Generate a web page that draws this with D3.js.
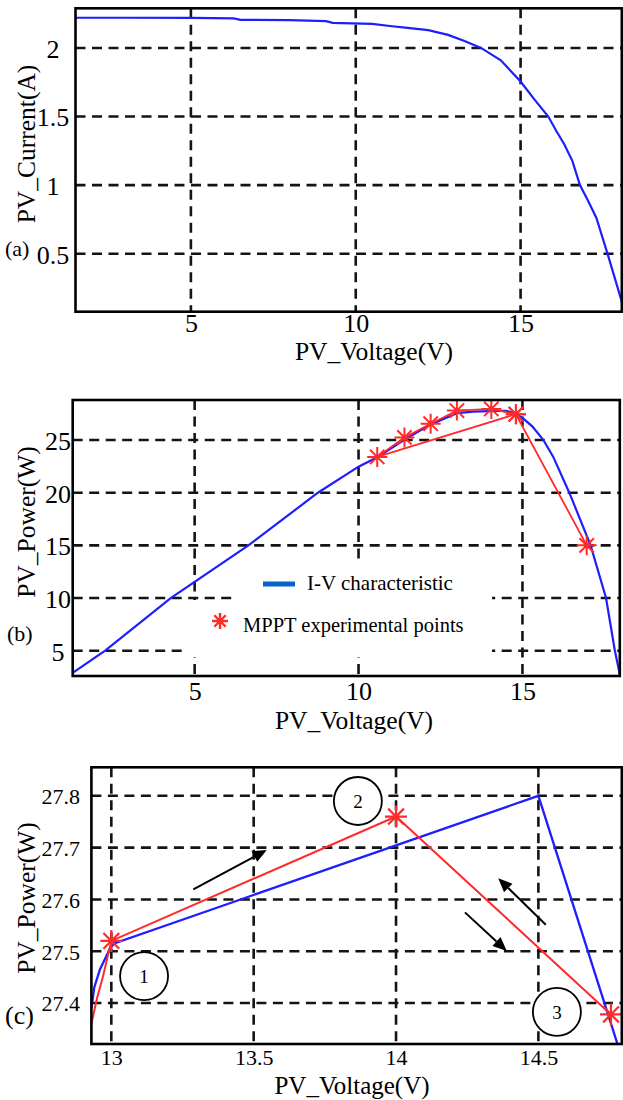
<!DOCTYPE html>
<html><head><meta charset="utf-8">
<script src="https://cdn.jsdelivr.net/npm/d3@7"></script>
<style>
body{margin:0;background:#fff}
svg{display:block}
text{font-family:"Liberation Serif","Times New Roman",serif;fill:#000}
</style>
</head><body>
<svg id="chart" width="623" height="1100"></svg>
<script>
// ---------- DATA ----------
// (a) I-V characteristic
const ivVoltage = [1.5, 3, 5, 6.3, 6.5, 8, 9.1, 9.3, 10.5, 11.1, 11.5, 12.2, 12.8, 13.3, 13.8, 14.4, 15.0, 15.4, 15.84, 16.08, 16.32, 16.57, 16.8, 17.05, 17.3, 17.65, 18.07];
const ivCurrent = [2.22, 2.22, 2.219, 2.215, 2.205, 2.203, 2.195, 2.183, 2.175, 2.158, 2.148, 2.13, 2.095, 2.05, 2.0, 1.91, 1.755, 1.63, 1.5, 1.396, 1.3, 1.177, 1.0, 0.884, 0.76, 0.49, 0.15];
// (b) P-V characteristic
const pvVoltage = [1.28, 2.27, 4.27, 6.64, 8.76, 10.0, 10.57, 11.42, 12.15, 13.0, 13.5, 14.0, 14.5, 14.8, 15.02, 15.3, 15.64, 15.94, 16.43, 17.08, 17.55, 17.82, 17.98];
const pvPower   = [2.9, 5.0, 10.0, 15.0, 20.0, 22.47, 23.36, 25.07, 26.4, 27.55, 27.7, 27.75, 27.78, 27.5, 27.06, 26.3, 25.0, 23.4, 20.0, 15.0, 10.0, 5.0, 2.6];
// (b) MPPT experimental points (in tracking order)
const mpptVoltage = [14.8, 10.57, 11.4, 12.2, 13.0, 14.05, 14.8, 16.96];
const mpptPower   = [27.45, 23.4, 25.25, 26.55, 27.8, 27.95, 27.45, 15.0];
// (c) zoom: characteristic and MPPT path
const zoomCurveVoltage = [12.93, 12.94, 12.96, 12.995, 13.01, 14.5, 14.79];
const zoomCurvePower   = [27.39, 27.43, 27.465, 27.505, 27.515, 27.8, 27.3];
const zoomMpptVoltage  = [12.93, 12.95, 12.97, 13.0, 14.0, 14.755];
const zoomMpptPower    = [27.36, 27.41, 27.45, 27.52, 27.76, 27.378];
const zoomStarVoltage  = [13.0, 14.0, 14.755];
const zoomStarPower    = [27.52, 27.76, 27.378];
const stepLabels = ["1", "2", "3"];
// ticks
const ticksAx = [5, 10, 15];
const ticksAy = [0.5, 1, 1.5, 2];
const ticksBx = [5, 10, 15];
const ticksBy = [5, 10, 15, 20, 25];
const ticksCx = [13, 13.5, 14, 14.5];
const ticksCy = [27.4, 27.5, 27.6, 27.7, 27.8];
const tickLabelsAy = ["0.5", "1", "1.5", "2"];
const tickLabelsCx = ["13", "13.5", "14", "14.5"];
const tickLabelsCy = ["27.4", "27.5", "27.6", "27.7", "27.8"];
const legendLabels = ["I-V characteristic", "MPPT experimental points"];

// ---------- LAYOUT ----------
const FONT = '"Liberation Serif","Times New Roman",serif';
const svg = d3.select("#chart");
svg.append("rect").attr("width",623).attr("height",1100).attr("fill","#fff");

const BLUE = "#1e1eff", RED = "#ff2b2b";

function txt(sel, size){ return sel.style("font-family", FONT).style("font-size", size + "px").attr("fill", "#000"); }

function makePanel(o){
  const x = d3.scaleLinear().domain(o.xDomain).range([o.left, o.right]);
  const y = d3.scaleLinear().domain(o.yDomain).range([o.bottom, o.top]);
  const g = svg.append("g");
  const clipId = "clip-" + o.id;
  svg.append("clipPath").attr("id", clipId).append("rect")
    .attr("x", o.left).attr("y", o.top).attr("width", o.right - o.left).attr("height", o.bottom - o.top);
  const grid = g.append("g").attr("stroke", "#141414").attr("stroke-width", 2.6).attr("stroke-dasharray", "10,6.5");
  grid.selectAll(".gx").data(o.xTicks).join("line")
    .attr("x1", d => x(d)).attr("x2", d => x(d)).attr("y1", o.top).attr("y2", o.bottom);
  grid.selectAll(".gy").data(o.yTicks).join("line")
    .attr("y1", d => y(d)).attr("y2", d => y(d)).attr("x1", o.left).attr("x2", o.right);
  const layer = g.append("g");
  const plot = g.append("g").attr("clip-path", `url(#${clipId})`);
  // axes (labels only)
  const ax = g.append("g").attr("transform", `translate(0,${o.bottom})`)
    .call(d3.axisBottom(x).tickValues(o.xTicks).tickSize(0).tickFormat((d,i) => o.xFmt ? o.xFmt[i] : d));
  ax.select(".domain").remove();
  ax.attr("font-family", FONT).attr("font-size", o.tickSize);
  txt(ax.selectAll("text").attr("y", o.xTickBase - o.bottom).attr("dy", 0), o.tickSize);
  const ay = g.append("g").attr("transform", `translate(${o.left},0)`)
    .call(d3.axisLeft(y).tickValues(o.yTicks).tickSize(0).tickFormat((d,i) => o.yFmt ? o.yFmt[i] : d));
  ay.select(".domain").remove();
  ay.attr("font-family", FONT).attr("font-size", o.tickSize);
  txt(ay.selectAll("text").attr("x", o.yTickX - o.left).attr("dy", "0.36em")
    .attr("text-anchor", o.yAnchor), o.tickSize);
  // axis titles
  txt(g.append("text").attr("x", o.xLabelX).attr("y", o.xLabelBase).attr("text-anchor", "middle"), o.xLabelSize || 25.5)
    .text("PV_Voltage(V)");
  txt(g.append("text").attr("transform", `translate(${o.yLabelX},${o.yLabelY}) rotate(-90)`)
    .attr("text-anchor", "middle"), 25.5).text(o.yLabel);
  txt(g.append("text").attr("x", o.tagX).attr("y", o.tagY), o.tagSize).text(o.tag);
  return {x, y, g, plot, layer, frame: () => g.append("rect").attr("x", o.left).attr("y", o.top)
    .attr("width", o.right - o.left).attr("height", o.bottom - o.top)
    .attr("fill", "none").attr("stroke", "#000").attr("stroke-width", 2.6)};
}

function starPath(cx, cy, r){
  const d = r * 0.72;
  return `M${cx-r},${cy}H${cx+r}M${cx},${cy-r}V${cy+r}M${cx-d},${cy-d}L${cx+d},${cy+d}M${cx-d},${cy+d}L${cx+d},${cy-d}`;
}

// ---------- PANEL (a) ----------
const A = makePanel({id:"a", left:75.5, right:621.8, top:8.3, bottom:311.7,
  xDomain:[1.5, 18.07], yDomain:[0.077, 2.289], xTicks:ticksAx, yTicks:ticksAy, yFmt:tickLabelsAy,
  tickSize:26, xTickBase:332, yTickX:53, yAnchor:"middle",
  xLabelX:374, xLabelBase:360, yLabel:"PV_Current(A)", yLabelX:35, yLabelY:144,
  tag:"(a)", tagX:5, tagY:256, tagSize:22});
const lineA = d3.line().x(d => A.x(d[0])).y(d => A.y(d[1]));
A.plot.append("path").datum(d3.zip(ivVoltage, ivCurrent)).attr("d", lineA)
  .attr("fill", "none").attr("stroke", BLUE).attr("stroke-width", 2.2);
A.frame();

// ---------- PANEL (b) ----------
const B = makePanel({id:"b", left:72.7, right:619.8, top:400, bottom:676,
  xDomain:[1.28, 17.97], yDomain:[2.6, 28.8], xTicks:ticksBx, yTicks:ticksBy,
  tickSize:26, xTickBase:700, yTickX:58, yAnchor:"middle",
  xLabelX:354, xLabelBase:729, yLabel:"PV_Power(W)", yLabelX:35, yLabelY:522,
  tag:"(b)", tagX:7, tagY:641, tagSize:22});
// legend background
B.layer.append("rect").attr("x", 233).attr("y", 565).attr("width", 259).attr("height", 92).attr("fill", "#fff");
B.layer.append("rect").attr("x", 182).attr("y", 600).attr("width", 310).attr("height", 57).attr("fill", "#fff");
const lineB = d3.line().x(d => B.x(d[0])).y(d => B.y(d[1]));
B.plot.append("path").datum(d3.zip(pvVoltage, pvPower)).attr("d", lineB)
  .attr("fill", "none").attr("stroke", BLUE).attr("stroke-width", 2.2);
B.plot.append("path").datum(d3.zip(mpptVoltage, mpptPower)).attr("d", lineB)
  .attr("fill", "none").attr("stroke", RED).attr("stroke-width", 1.8);
B.plot.selectAll(".star").data(d3.zip(mpptVoltage, mpptPower)).join("path")
  .attr("d", d => starPath(B.x(d[0]), B.y(d[1]), 10))
  .attr("stroke", RED).attr("stroke-width", 2).attr("fill", "none");
// legend items
B.g.append("line").attr("x1", 263).attr("x2", 295).attr("y1", 584).attr("y2", 584)
  .attr("stroke", "#0a64c8").attr("stroke-width", 5);
txt(B.g.append("text").attr("x", 307).attr("y", 590), 21).text(legendLabels[0]);
B.g.append("path").attr("d", starPath(220, 621, 8)).attr("stroke", RED).attr("stroke-width", 2.4).attr("fill", "none");
txt(B.g.append("text").attr("x", 243).attr("y", 632), 20.5).text(legendLabels[1]);
B.frame();

// ---------- PANEL (c) ----------
const C = makePanel({id:"c", left:91.4, right:621.8, top:767.3, bottom:1044,
  xDomain:[12.93, 14.793], yDomain:[27.321, 27.855], xTicks:ticksCx, yTicks:ticksCy,
  xFmt:tickLabelsCx, yFmt:tickLabelsCy,
  tickSize:22, xTickBase:1065, yTickX:80, yAnchor:"end",
  xLabelX:352, xLabelBase:1094, xLabelSize:25, yLabel:"PV_Power(W)", yLabelX:35, yLabelY:898,
  tag:"(c)", tagX:5, tagY:1024, tagSize:26});
const lineC = d3.line().x(d => C.x(d[0])).y(d => C.y(d[1]));
C.plot.append("path").datum(d3.zip(zoomCurveVoltage, zoomCurvePower)).attr("d", lineC)
  .attr("fill", "none").attr("stroke", BLUE).attr("stroke-width", 2.3);
C.plot.append("path").datum(d3.zip(zoomMpptVoltage, zoomMpptPower)).attr("d", lineC)
  .attr("fill", "none").attr("stroke", RED).attr("stroke-width", 2);
C.plot.selectAll(".star").data(d3.zip(zoomStarVoltage, zoomStarPower)).join("path")
  .attr("d", d => starPath(C.x(d[0]), C.y(d[1]), 11))
  .attr("stroke", RED).attr("stroke-width", 2.2).attr("fill", "none");

// annotations (positions in data units)
const circleAnchors = [[13.115, 27.452], [13.866, 27.79], [14.565, 27.383]];
C.g.selectAll(".circ").data(circleAnchors).join("ellipse")
  .attr("cx", d => C.x(d[0])).attr("cy", d => C.y(d[1])).attr("rx", 24).attr("ry", 24)
  .attr("fill", "#fff").attr("stroke", "#000").attr("stroke-width", 1.8);
txt(C.g.selectAll(".circt").data(circleAnchors).join("text")
  .attr("x", d => C.x(d[0])).attr("y", d => C.y(d[1])).attr("dy", "0.35em")
  .attr("text-anchor", "middle"), 19).text((d,i) => stepLabels[i]);

const arrowSegments = [
  [[13.288, 27.6196], [13.546, 27.6955]],
  [[14.526, 27.551], [14.359, 27.641]],
  [[14.242, 27.575], [14.389, 27.5005]]
];
arrowSegments.forEach(s => {
  const x1 = C.x(s[0][0]), y1 = C.y(s[0][1]), x2 = C.x(s[1][0]), y2 = C.y(s[1][1]);
  const ang = Math.atan2(y2 - y1, x2 - x1), L = 14, W = 6;
  const bx = x2 - L * Math.cos(ang), by = y2 - L * Math.sin(ang);
  C.g.append("line").attr("x1", x1).attr("y1", y1).attr("x2", bx).attr("y2", by)
    .attr("stroke", "#000").attr("stroke-width", 2);
  const px = -Math.sin(ang) * W, py = Math.cos(ang) * W;
  C.g.append("path").attr("d", `M${x2},${y2}L${bx+px},${by+py}L${bx-px},${by-py}Z`).attr("fill", "#000");
});
C.frame();
</script>
</body></html>
